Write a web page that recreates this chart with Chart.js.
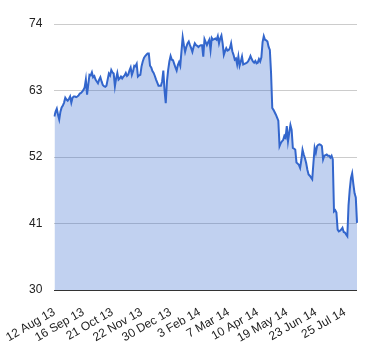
<!DOCTYPE html>
<html>
<head>
<meta charset="utf-8">
<script src="https://cdn.jsdelivr.net/npm/chart.js@4/dist/chart.umd.min.js"></script>
<style>
html,body{margin:0;padding:0;background:#fff;}
#wrap{width:380px;height:360px;position:relative;}
</style>
</head>
<body>
<div id="wrap"><canvas id="c" width="380" height="360"></canvas></div>
<script>
// Trading days (London calendar) from 12 Aug 2013
const startDate = "2013-08-12";
const holidays = ["2013-08-26","2013-12-25","2013-12-26","2014-01-01","2014-04-18","2014-04-21","2014-05-05","2014-05-26"];
const tickLabels = ["12 Aug 13","16 Sep 13","21 Oct 13","22 Nov 13","30 Dec 13","3 Feb 14","7 Mar 14","10 Apr 14","19 May 14","23 Jun 14","25 Jul 14"];
const yTicks = [30, 41, 52, 63, 74];

const prices = [
58.7,59.5,60.0,59.0,58.2,59.5,60.2,60.5,61.0,61.8,
61.5,61.3,61.6,62.0,61.0,61.8,62.0,62.0,61.9,62.0,
62.2,62.5,62.6,62.8,63.1,63.5,64.8,62.3,64.0,65.6,
65.5,66.0,65.2,65.4,64.8,64.5,64.2,64.8,65.2,64.5,
63.9,63.7,63.6,63.8,64.8,65.8,65.5,66.4,66.0,65.8,
63.7,65.0,65.9,64.8,65.0,65.3,65.0,65.3,65.5,65.9,
65.4,65.6,66.3,66.8,65.6,66.2,67.1,67.0,67.4,65.3,
65.5,65.6,67.0,67.8,68.4,68.7,68.9,69.1,69.1,67.1,
66.8,66.2,65.9,65.4,64.8,64.3,63.8,63.8,63.8,64.5,
66.3,63.0,60.9,64.5,66.4,67.8,68.7,68.1,68.0,67.4,
66.8,66.3,67.2,67.7,67.1,69.5,71.8,70.5,69.4,70.2,
70.8,71.1,70.5,70.0,69.4,70.2,70.8,70.5,70.4,70.2,
70.4,70.5,70.5,68.6,71.5,71.0,70.5,71.0,71.4,69.7,
71.7,71.4,71.5,71.6,71.4,72.0,70.8,71.6,72.1,70.8,
68.9,69.5,70.0,69.6,69.7,70.0,70.8,69.5,68.9,68.1,
68.3,67.3,68.6,67.1,67.8,68.6,67.3,67.4,67.5,67.6,
67.8,68.2,68.7,68.2,67.8,67.6,67.9,67.5,67.6,68.2,
67.8,68.5,71.0,72.0,71.4,71.3,71.1,70.2,69.7,65.9,
60.1,59.8,59.4,59.0,58.5,58.0,53.8,54.3,54.6,54.8,
55.5,55.2,57.1,54.6,56.0,57.3,56.5,53.5,53.4,53.2,
51.1,50.9,50.7,50.2,51.5,53.2,52.4,51.8,51.0,49.9,
49.1,48.9,48.6,48.3,51.0,53.5,52.7,53.8,54.0,54.1,
54.0,53.8,51.6,52.2,52.3,52.4,52.2,52.2,51.9,52.2,
51.6,43.0,43.2,42.8,40.0,39.7,39.8,40.0,40.3,39.6,
39.5,39.2,38.9,44.0,46.6,48.5,49.3,47.5,46.0,45.3,
41.1
];

const MONTHS = ["Jan","Feb","Mar","Apr","May","Jun","Jul","Aug","Sep","Oct","Nov","Dec"];
function tradingDays(start, n, hol) {
  const out = [];
  const d = new Date(start + "T12:00:00Z");
  while (out.length < n) {
    const iso = d.toISOString().slice(0, 10);
    const wd = d.getUTCDay();
    if (wd !== 0 && wd !== 6 && hol.indexOf(iso) < 0) {
      out.push(d.getUTCDate() + " " + MONTHS[d.getUTCMonth()] + " " + String(d.getUTCFullYear()).slice(2));
    }
    d.setUTCDate(d.getUTCDate() + 1);
  }
  return out;
}
const categories = tradingDays(startDate, prices.length, holidays);

new Chart(document.getElementById('c'), {
  type: 'line',
  data: {
    labels: categories,
    datasets: [{
      data: prices,
      borderColor: '#3366cc',
      backgroundColor: 'rgba(51,102,204,0.3)',
      borderWidth: 2,
      fill: 'start',
      pointRadius: 0,
      tension: 0
    }]
  },
  options: {
    responsive: false,
    animation: false,
    devicePixelRatio: 1,
    layout: { padding: { top: 24, right: 23, left: 0, bottom: 0 } },
    plugins: { legend: { display: false }, tooltip: { enabled: false } },
    scales: {
      x: {
        offset: false,
        grid: { display: false },
        border: { display: false },
        ticks: {
          autoSkip: false,
          maxRotation: 30,
          minRotation: 30,
          padding: 7,
          color: '#222',
          font: { family: 'Liberation Sans, Arial, sans-serif', size: 12 },
          callback: function(v, i) { return (i % 24 === 0) ? tickLabels[i / 24] : null; }
        },
        afterFit: function(s) { s.height = 70; }
      },
      y: {
        min: 30, max: 74,
        afterBuildTicks: function(s) { s.ticks = yTicks.map(v => ({ value: v })); },
        grid: {
          drawTicks: false,
          color: function(ctx) { return ctx.tick && ctx.tick.value === 30 ? '#333333' : '#cccccc'; },
          lineWidth: 1
        },
        border: { display: false },
        ticks: {
          padding: 12,
          color: '#222',
          font: { family: 'Liberation Sans, Arial, sans-serif', size: 12 }
        },
        afterFit: function(s) { s.width = 54; }
      }
    }
  }
});
</script>
</body>
</html>
